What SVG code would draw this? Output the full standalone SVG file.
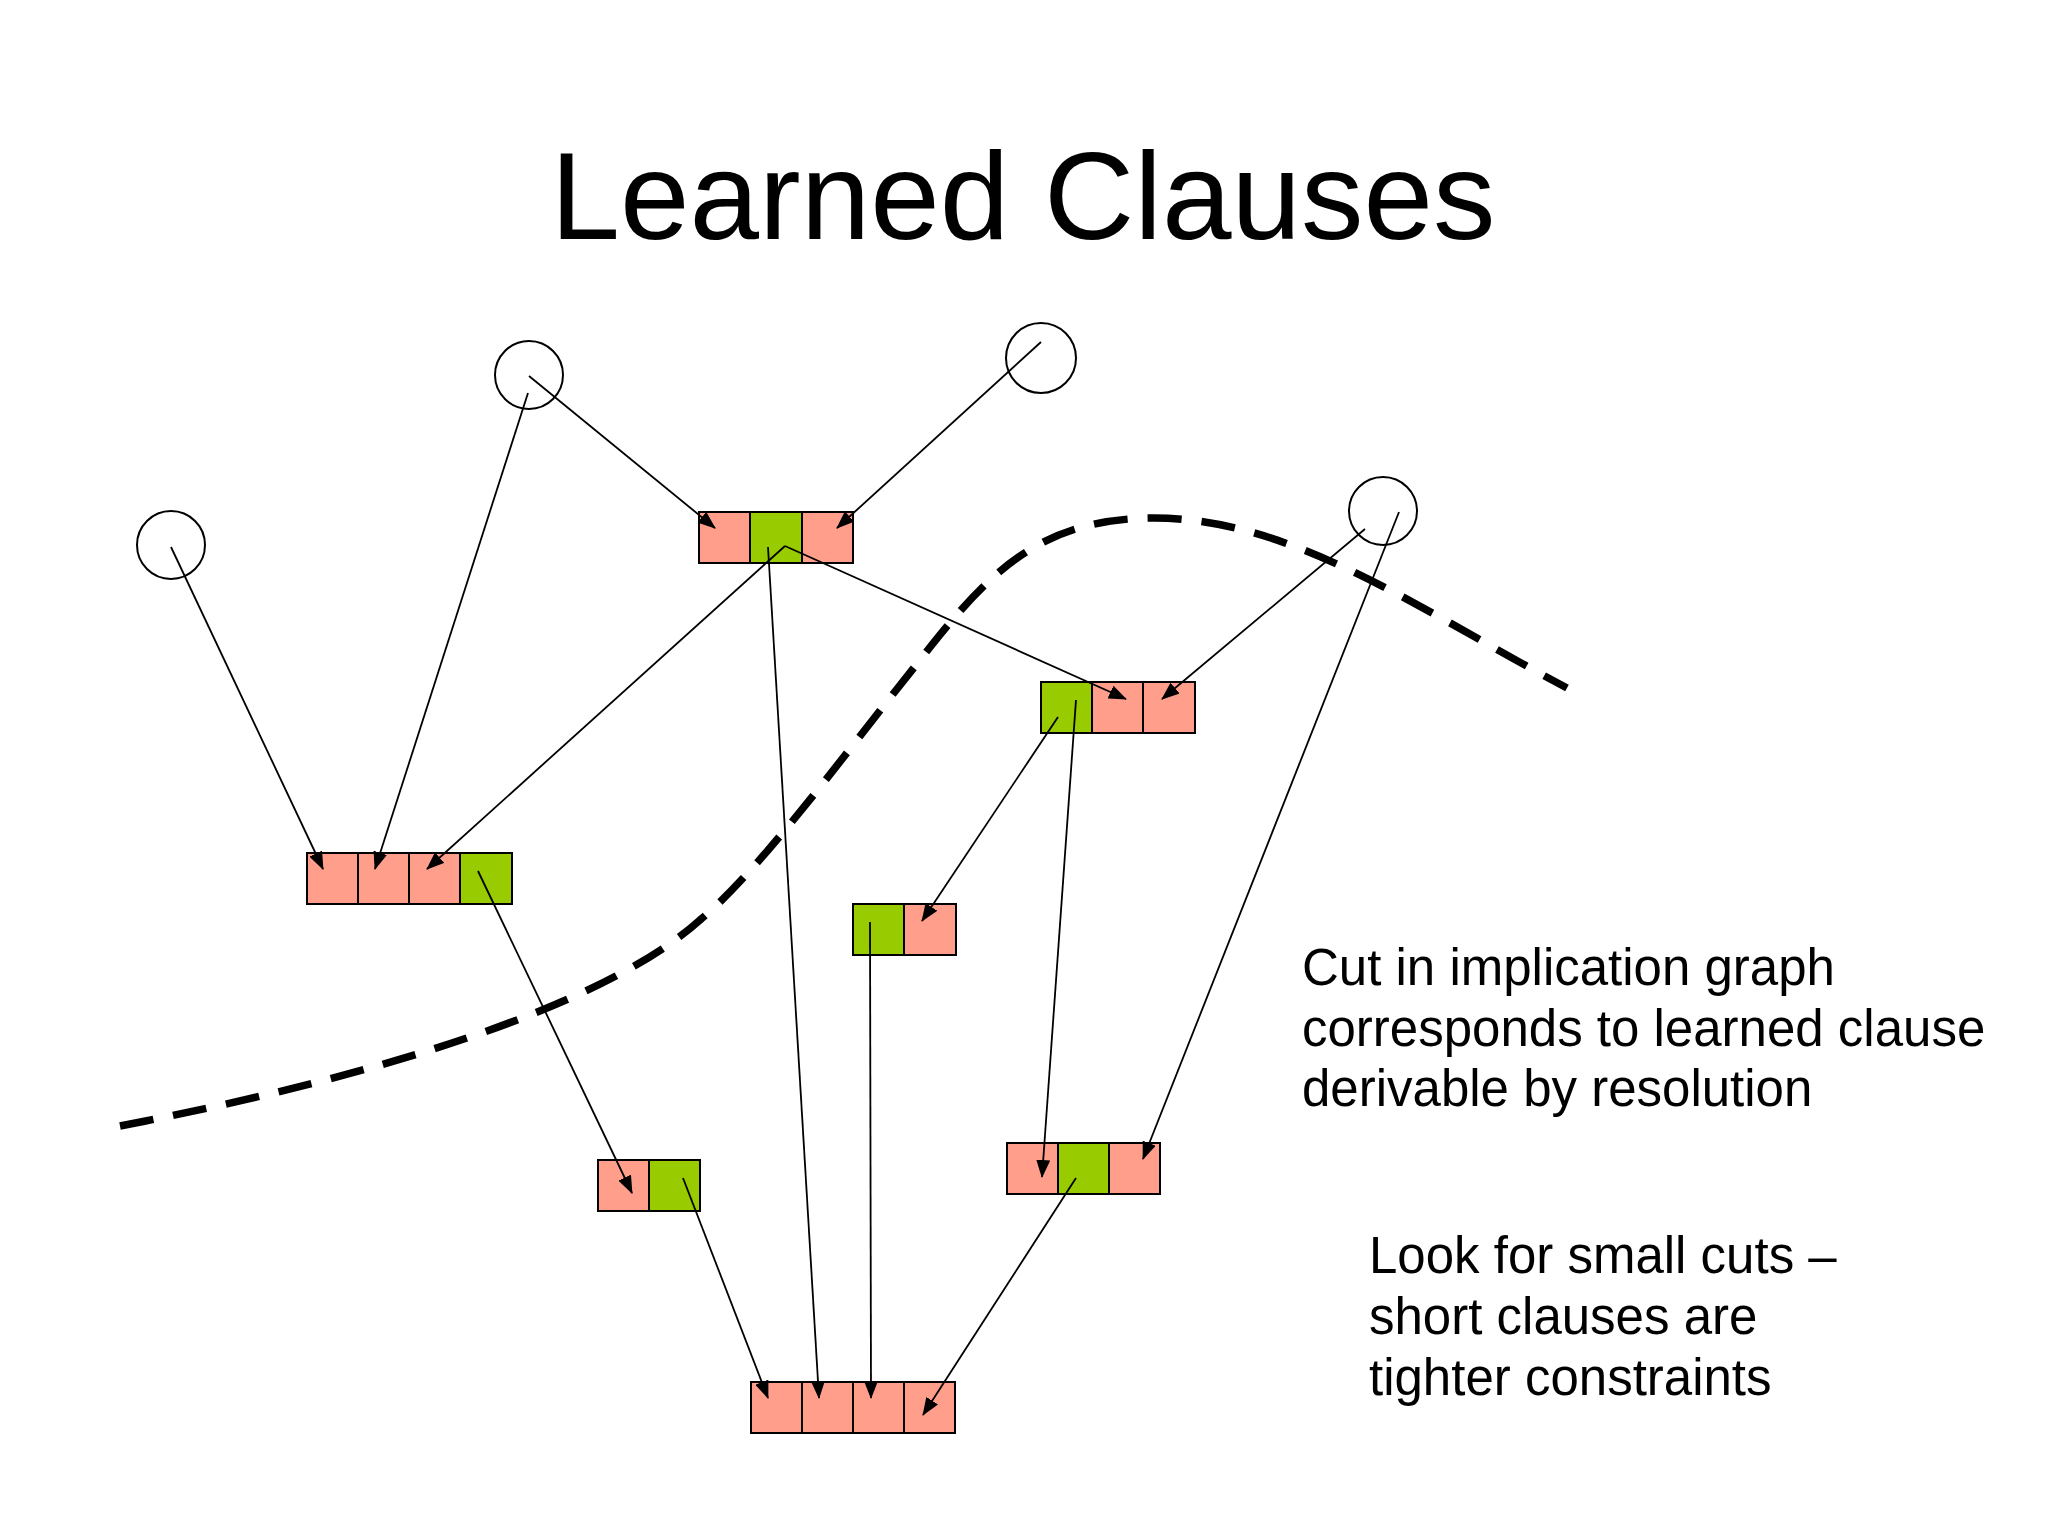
<svg xmlns="http://www.w3.org/2000/svg" width="2048" height="1536" viewBox="0 0 2048 1536">
<style>
.t{font-family:"Liberation Sans",Arial,sans-serif;fill:#000}
.p{fill:#FF9E8A;stroke:#000;stroke-width:2}
.g{fill:#99CC00;stroke:#000;stroke-width:2}
.c{fill:none;stroke:#000;stroke-width:2}
.e{fill:none;stroke:#000;stroke-width:1.8;marker-end:url(#ah)}
.cut{fill:none;stroke:#000;stroke-width:7.5;stroke-dasharray:34 20}
</style>
<defs>
<marker id="ah" viewBox="0 0 18 14" refX="17" refY="7" markerWidth="18" markerHeight="14" markerUnits="userSpaceOnUse" orient="auto">
<path d="M0,0 L18,7 L0,14 z" fill="#000"/>
</marker>
</defs>
<rect width="2048" height="1536" fill="#fff"/>
<text class="t" x="1023" y="239" font-size="125" text-anchor="middle">Learned Clauses</text>

<path id="cut" class="cut" d="M120,1126 C360,1080 600,1010 700,920 C760,870 840,760 920,660 C990,570 1040,520 1150,518 C1290,516 1420,610 1567,688"/>

<g id="n1"><circle class="c" cx="171" cy="545" r="34"/></g>
<g id="n2"><circle class="c" cx="529" cy="375" r="34"/></g>
<g id="n3"><circle class="c" cx="1041" cy="358" r="35"/></g>
<g id="n4"><circle class="c" cx="1383" cy="511" r="34"/></g>

<g id="c_top"><rect class="p" x="699" y="512" width="51" height="51"/><rect class="g" x="750" y="512" width="52" height="51"/><rect class="p" x="802" y="512" width="51" height="51"/></g>
<g id="c_left"><rect class="p" x="307" y="853" width="51" height="51"/><rect class="p" x="358" y="853" width="51" height="51"/><rect class="p" x="409" y="853" width="51" height="51"/><rect class="g" x="460" y="853" width="52" height="51"/></g>
<g id="c_right"><rect class="g" x="1041" y="682" width="51" height="51"/><rect class="p" x="1092" y="682" width="51" height="51"/><rect class="p" x="1143" y="682" width="52" height="51"/></g>
<g id="c_mid"><rect class="g" x="853" y="904" width="51" height="51"/><rect class="p" x="904" y="904" width="52" height="51"/></g>
<g id="c_small"><rect class="p" x="598" y="1160" width="51" height="51"/><rect class="g" x="649" y="1160" width="51" height="51"/></g>
<g id="c_lr"><rect class="p" x="1007" y="1143" width="51" height="51"/><rect class="g" x="1058" y="1143" width="51" height="51"/><rect class="p" x="1109" y="1143" width="51" height="51"/></g>
<g id="c_bottom"><rect class="p" x="751" y="1382" width="51" height="51"/><rect class="p" x="802" y="1382" width="51" height="51"/><rect class="p" x="853" y="1382" width="51" height="51"/><rect class="p" x="904" y="1382" width="51" height="51"/></g>

<g id="connectors">
<line class="e" x1="171" y1="547" x2="323" y2="869"/>
<line class="e" x1="528" y1="393" x2="375" y2="869"/>
<line class="e" x1="529" y1="376" x2="715" y2="528"/>
<line class="e" x1="1041" y1="342" x2="837" y2="528"/>
<line class="e" x1="785" y1="546" x2="427" y2="869"/>
<line class="e" x1="785" y1="546" x2="1126" y2="699"/>
<line class="e" x1="768" y1="547" x2="819" y2="1398"/>
<line class="e" x1="478" y1="871" x2="632" y2="1193"/>
<line class="e" x1="683" y1="1178" x2="768" y2="1398"/>
<line class="e" x1="1058" y1="717" x2="922" y2="921"/>
<line class="e" x1="1076" y1="700" x2="1042" y2="1177"/>
<line class="e" x1="870" y1="922" x2="871" y2="1398"/>
<line class="e" x1="1365" y1="529" x2="1162" y2="699"/>
<line class="e" x1="1399" y1="512" x2="1143" y2="1159"/>
<line class="e" x1="1076" y1="1178" x2="923" y2="1415"/>
</g>

<text class="t" font-size="51"><tspan x="1302" y="985">Cut in implication graph</tspan><tspan x="1302" y="1046">corresponds to learned clause</tspan><tspan x="1302" y="1106">derivable by resolution</tspan></text>
<text class="t" font-size="51"><tspan x="1369" y="1273">Look for small cuts –</tspan><tspan x="1369" y="1334">short clauses are</tspan><tspan x="1369" y="1395">tighter constraints</tspan></text>
</svg>
